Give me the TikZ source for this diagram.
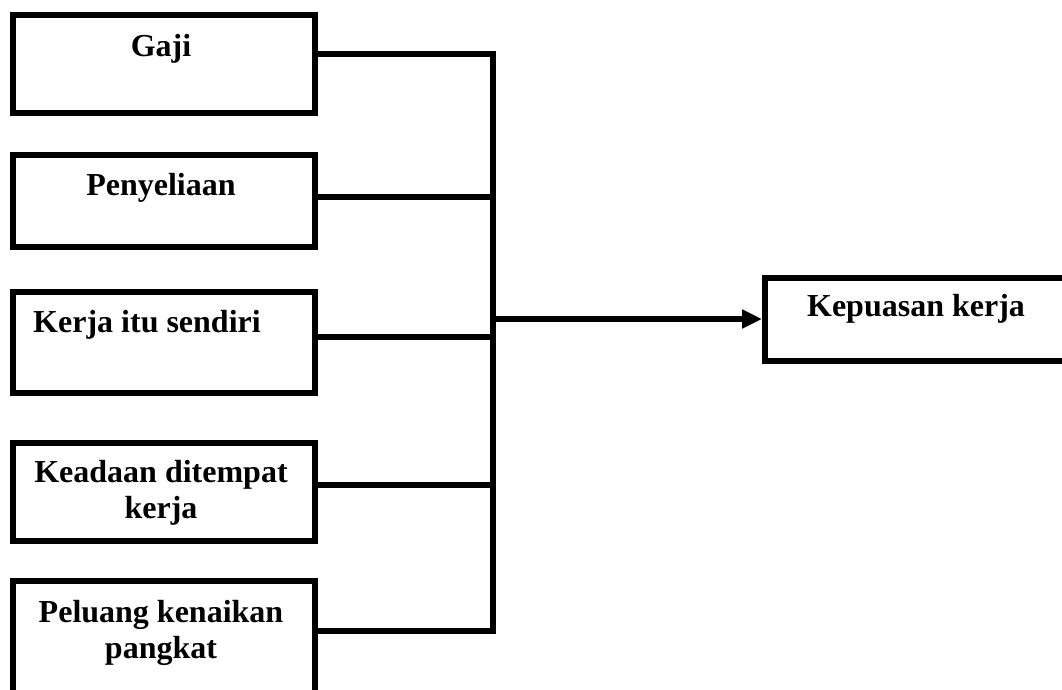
\documentclass[tikz,border=0pt]{standalone}
\usepackage{fontspec}
\setmainfont{Liberation Serif}
\usetikzlibrary{arrows.meta}
\begin{document}
\begin{tikzpicture}[x=1pt,y=-1pt,
  box/.style={draw=black,line width=6pt,rectangle,inner sep=0pt,anchor=north west},
  txt/.style={font=\fontsize{32}{36}\selectfont\bfseries,align=center,inner sep=0pt,anchor=base},
  wire/.style={line width=6pt,draw=black},
  arr/.style={wire,-{Triangle[length=20pt,width=18pt]}}]
\useasboundingbox (0,0) rectangle (1062,689);
\clip (0,0) rectangle (1062,689);
% left boxes
\node[box,minimum width=302pt,minimum height=98pt] (b1) at (10,12) {};
\node[box,minimum width=302pt,minimum height=92pt] (b2) at (10,152) {};
\node[box,minimum width=302pt,minimum height=101pt] (b3) at (10,289) {};
\node[box,minimum width=302pt,minimum height=98pt] (b4) at (10,440) {};
\node[box,minimum width=302pt,minimum height=150pt] (b5) at (10,578) {};
% right box
\node[box,minimum width=340pt,minimum height=83pt] (k) at (762,275) {};
% texts (base = baseline of last line)
\node[txt] (t1) at (161,56) {Gaji};
\node[txt] (t2) at (161,195) {Penyeliaan};
\node[txt] (t3) at (147,332) {Kerja itu sendiri};
\node[txt] (t4) at (161,518) {Keadaan ditempat\\kerja};
\node[txt] (t5) at (161,658) {Peluang kenaikan\\pangkat};
\node[txt] (tk) at (916,316) {Kepuasan kerja};
% junctions on the bus
\coordinate (j1) at (493,54);
\coordinate (j2) at (493,197);
\coordinate (j3) at (493,337);
\coordinate (j4) at (493,485);
\coordinate (j5) at (493,631);
\coordinate (jo) at (493,319);
% connectors
\draw[wire] (j1 -| b1.east) -- (j1);
\draw[wire] (j2 -| b2.east) -- (j2);
\draw[wire] (j3 -| b3.east) -- (j3);
\draw[wire] (j4 -| b4.east) -- (j4);
\draw[wire] (j5 -| b5.east) -- (j5);
\draw[wire,line cap=rect] (j1) -- (j5);
\draw[arr] (jo) -- (jo -| k.west);
\end{tikzpicture}
\end{document}
